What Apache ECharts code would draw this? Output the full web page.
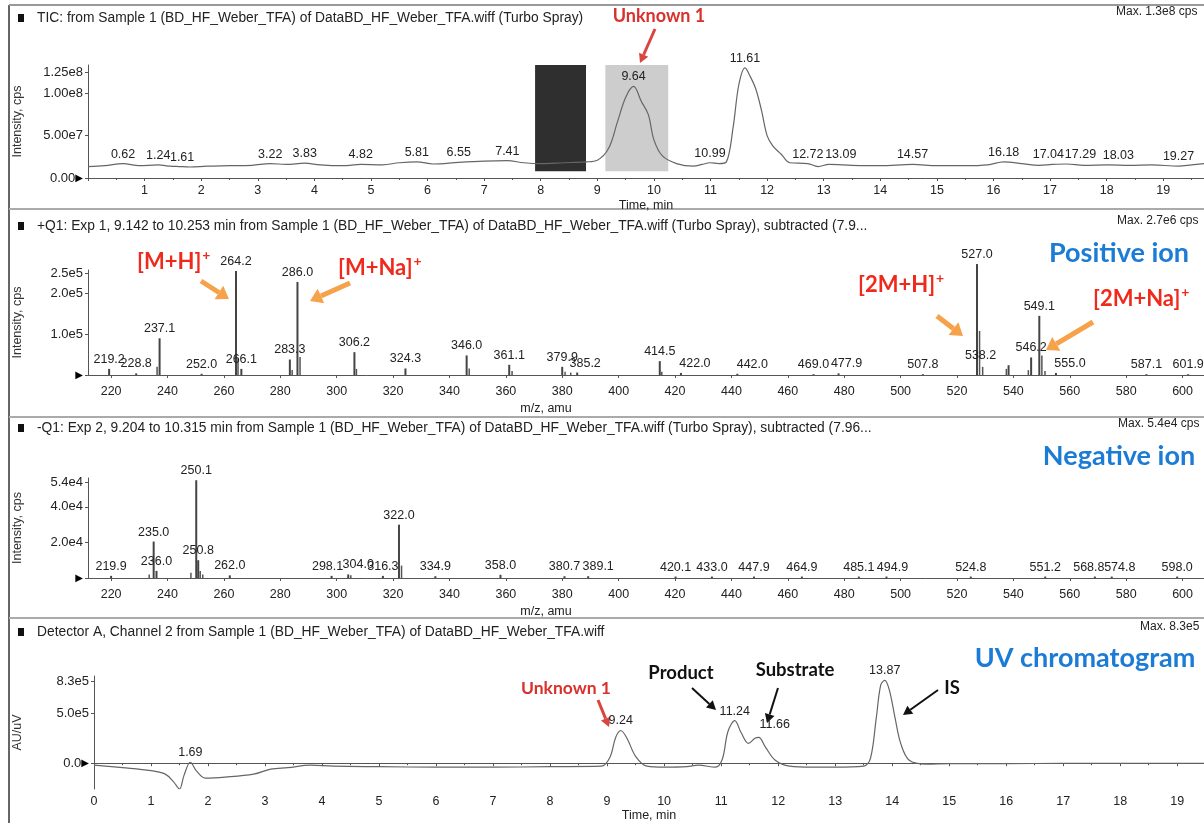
<!DOCTYPE html>
<html>
<head>
<meta charset="utf-8">
<title>LC-MS / UV</title>
<script src="https://cdn.jsdelivr.net/npm/echarts@6/dist/echarts.min.js"></script>
<style>
  html, body { margin: 0; padding: 0; background: #fff; }
  #chart { width: 1204px; height: 823px; }
</style>
</head>
<body>
<div id="chart"></div>
<script>
// ---- TIC chromatogram (time in min, intensity in cps) ----
const ticTime = [0.0, 0.3, 0.62, 0.9, 1.24, 1.45, 1.61, 1.8, 2.1, 2.5, 2.9, 3.22, 3.5, 3.83, 4.1, 4.5, 4.82, 5.2, 5.5, 5.81, 6.1, 6.55, 7.0, 7.41, 7.7, 8.0, 8.4, 8.8, 9.0, 9.2, 9.35, 9.5, 9.64, 9.78, 9.9, 10.0, 10.15, 10.4, 10.7, 10.85, 10.99, 11.15, 11.28, 11.4, 11.5, 11.61, 11.7, 11.8, 11.9, 12.0, 12.1, 12.25, 12.4, 12.72, 12.9, 13.09, 13.5, 14.0, 14.57, 15.0, 15.5, 15.9, 16.18, 16.5, 16.8, 17.04, 17.29, 17.6, 18.03, 18.4, 18.8, 19.27, 19.5, 19.72];
const ticIntensity = [1.35e7, 1.45e7, 1.7e7, 1.45e7, 1.55e7, 1.4e7, 1.35e7, 1.3e7, 1.4e7, 1.45e7, 1.5e7, 1.7e7, 1.6e7, 1.75e7, 1.55e7, 1.45e7, 1.6e7, 1.55e7, 1.8e7, 1.9e7, 1.65e7, 1.85e7, 2.0e7, 2.05e7, 1.8e7, 1.7e7, 1.8e7, 1.9e7, 2.1e7, 3.5e7, 6.5e7, 9.5e7, 1.08e8, 9.0e7, 7.5e7, 4.5e7, 2.6e7, 1.7e7, 1.4e7, 1.6e7, 1.8e7, 1.7e7, 1.9e7, 6.0e7, 1.1e8, 1.3e8, 1.2e8, 1.05e8, 8.0e7, 5.0e7, 3.8e7, 2.8e7, 1.8e7, 1.7e7, 1.35e7, 1.6e7, 1.5e7, 1.45e7, 1.6e7, 1.45e7, 1.45e7, 1.55e7, 1.9e7, 1.7e7, 1.5e7, 1.6e7, 1.65e7, 1.5e7, 1.55e7, 1.5e7, 1.55e7, 1.4e7, 1.55e7, 1.7e7];
const ticPeakLabels = [0.62, 1.24, 1.61, 3.22, 3.83, 4.82, 5.81, 6.55, 7.41, 9.64, 10.99, 11.61, 12.72, 13.09, 14.57, 16.18, 17.04, 17.29, 18.03, 19.27];
const ticYTicks = [0, 5e7, 1e8, 1.25e8];
const subtractRange = [7.9, 8.8];
const exp1Range = [9.142, 10.253];

// ---- +Q1 spectrum (m/z, cps) ----
const posMz = [219.2, 228.8, 237.1, 252.0, 264.2, 266.1, 283.3, 286.0, 306.2, 324.3, 346.0, 361.1, 379.9, 385.2, 414.5, 422.0, 442.0, 469.0, 477.9, 507.8, 527.0, 538.2, 546.2, 549.1, 555.0, 587.1, 601.9];
const posInt = [1.5e4, 4e3, 9e4, 3e3, 2.55e5, 1.5e4, 3.8e4, 2.28e5, 5.6e4, 1.6e4, 4.8e4, 2.5e4, 2e4, 6e3, 3.4e4, 5e3, 3e3, 2e3, 4e3, 2e3, 2.72e5, 2.4e4, 4.3e4, 1.45e5, 5e3, 2e3, 2e3];
const posMinorMz = [236.3, 265.0, 284.2, 287.0, 307.0, 347.0, 362.2, 381.0, 383.0, 415.3, 528.0, 529.1, 537.5, 545.3, 550.1, 551.2];
const posMinorInt = [2e4, 4e4, 1.2e4, 4.4e4, 1.5e4, 1.6e4, 1e4, 8e3, 6e3, 8e3, 1.08e5, 2e4, 1.5e4, 1.2e4, 4.8e4, 1e4];
const posYTicks = [0, 1e5, 2e5, 2.5e5];

// ---- -Q1 spectrum (m/z, cps) ----
const negMz = [219.9, 235.0, 236.0, 250.1, 250.8, 262.0, 298.1, 304.0, 316.3, 322.0, 334.9, 358.0, 380.7, 389.1, 420.1, 433.0, 447.9, 464.9, 485.1, 494.9, 524.8, 551.2, 568.8, 574.8, 598.0];
const negInt = [1.2e3, 2.05e4, 4e3, 5.5e4, 1.0e4, 1.5e3, 1.2e3, 2e3, 1.2e3, 3.0e4, 1e3, 1.8e3, 1e3, 1e3, 8e2, 8e2, 8e2, 8e2, 8e2, 8e2, 8e2, 8e2, 8e2, 8e2, 8e2];
const negMinorMz = [233.5, 248.3, 251.6, 252.5, 305.0, 323.0];
const negMinorInt = [2e3, 3e3, 4e3, 2e3, 1.5e3, 7e3];
const negYTicks = [0, 2e4, 4e4, 5.4e4];

const mzTicks = [220, 240, 260, 280, 300, 320, 340, 360, 380, 400, 420, 440, 460, 480, 500, 520, 540, 560, 580, 600];

// ---- UV chromatogram (time in min, AU/uV) ----
const uvTime = [0.0, 0.5, 1.0, 1.25, 1.4, 1.5, 1.58, 1.69, 1.8, 1.95, 2.3, 2.8, 3.1, 3.4, 3.8, 4.2, 5.0, 6.0, 7.0, 8.0, 8.9, 9.05, 9.15, 9.24, 9.35, 9.5, 9.7, 10.0, 10.4, 10.6, 10.9, 11.02, 11.12, 11.24, 11.35, 11.48, 11.6, 11.66, 11.78, 11.95, 12.2, 12.6, 13.0, 13.5, 13.62, 13.72, 13.8, 13.87, 13.95, 14.05, 14.15, 14.3, 14.6, 15.0, 16.0, 17.0, 18.0, 19.0, 19.47];
const uvSignal = [-0.2e5, -0.45e5, -0.75e5, -1.1e5, -1.9e5, -2.6e5, -1.2e5, 0.1e5, -0.8e5, -1.5e5, -1.4e5, -1.1e5, -0.6e5, -0.45e5, -0.2e5, -0.3e5, -0.35e5, -0.4e5, -0.4e5, -0.35e5, -0.3e5, 0.6e5, 2.6e5, 3.3e5, 2.5e5, 0.7e5, -0.3e5, -0.4e5, -0.35e5, -0.2e5, -0.4e5, 0.4e5, 3.2e5, 4.3e5, 3.1e5, 2.0e5, 2.55e5, 2.6e5, 1.6e5, 0.3e5, -0.3e5, -0.4e5, -0.4e5, -0.3e5, 0.5e5, 4.5e5, 7.9e5, 8.35e5, 7.4e5, 4.6e5, 2.0e5, 0.3e5, -0.1e5, -0.05e5, -0.05e5, 0.0, 0.0, 0.0, 0.0];
const uvPeakLabels = [1.69, 9.24, 11.24, 11.66, 13.87];
const uvYTicks = [0, 5e5, 8.3e5];

const FONT = "'Liberation Sans', Arial, sans-serif";
const BOLD = "Lato, 'Open Sans', sans-serif";
const INK = '#222';
const AXIS = '#555';

// label nudges (px) where the printed labels were pushed aside to avoid overlap
const ticLabelNudge = { 1.61: [3, 0], 13.09: [12, 0], 17.04: [-4, 0], 17.29: [14, 0], 18.03: [10, 0] };
const uvLabelNudge = { 11.66: [16, -3] };
const posLabelNudge = { 385.2: [8, 0], 422.0: [14, 0], 442.0: [15, 0], 477.9: [8, 0], 538.2: [-28, 0], 555.0: [14, 0] };
const negLabelNudge = { 298.1: [-4, 0], 304.0: [10, 0], 389.1: [10, 0], 494.9: [6, 0], 568.8: [-6, 0], 574.8: [8, 0] };

function curveData(xs, ys, labelled, nudge) {
    return xs.map(function (x, i) {
        return { value: [x, ys[i]], label: { show: labelled.indexOf(x) >= 0, offset: nudge[x] || [0, 0] } };
    });
}
function stickData(xs, ys, nudge) {
    return xs.map(function (x, i) {
        return nudge ? { value: [x, ys[i]], label: { offset: nudge[x] || [0, 0] } } : [x, ys[i]];
    });
}
function sci(v, digits) {
    return v.toExponential(digits).replace('+', '');
}

// little helper for annotation arrows
function arrow(x1, y1, x2, y2, color, w, hl, hw) {
    const a = Math.atan2(y2 - y1, x2 - x1);
    const bx = x2 - hl * Math.cos(a), by = y2 - hl * Math.sin(a);
    const nx = -Math.sin(a), ny = Math.cos(a);
    return [
        { type: 'line', shape: { x1: x1, y1: y1, x2: bx, y2: by }, style: { stroke: color, lineWidth: w } },
        { type: 'polygon', shape: { points: [[x2, y2], [bx + nx * hw, by + ny * hw], [bx - nx * hw, by - ny * hw]] }, style: { fill: color } }
    ];
}
function txt(x, y, s, font, color, align) {
    return { type: 'text', x: x, y: y, style: { text: s, font: font, fill: color, align: align || 'left', verticalAlign: 'middle' } };
}
function richTxt(x, y, s, color) {
    return {
        type: 'text', x: x, y: y,
        style: {
            text: s, fill: color, verticalAlign: 'middle', align: 'left',
            font: 'bold 22px ' + BOLD,
            rich: { s: { fontSize: 14, fontWeight: 'bold', fontFamily: BOLD, fill: color, padding: [0, 0, 14, 1] } }
        }
    };
}

const xCommon = {
    axisLine: { lineStyle: { color: AXIS } },
    axisTick: { length: 3, lineStyle: { color: AXIS } },
    axisLabel: { color: INK, fontSize: 12.5, fontFamily: FONT, margin: 6 },
    splitLine: { show: false },
    nameTextStyle: { color: INK, fontSize: 12.5, fontFamily: FONT }
};
function yAxis(idx, min, max, ticks, fmt, name, gap) {
    return {
        type: 'value', gridIndex: idx, min: min, max: max, name: name,
        nameLocation: 'middle', nameGap: gap,
        nameTextStyle: { color: '#333', fontSize: 12.5, fontFamily: FONT },
        axisLine: { show: true, lineStyle: { color: AXIS } },
        axisTick: { show: true, length: 3, customValues: ticks, lineStyle: { color: AXIS } },
        axisLabel: {
            customValues: ticks, formatter: fmt, color: INK, fontSize: 13, fontFamily: FONT, margin: 5,
            rich: { a: { fontSize: 10, color: '#000', fontFamily: 'DejaVu Sans' } }
        },
        splitLine: { show: false }
    };
}
function mzAxis(idx) {
    return Object.assign({}, xCommon, {
        type: 'value', gridIndex: idx, min: 211.8, max: 607.6,
        name: 'm/z, amu', nameLocation: 'middle', nameGap: 27,
        nameTextStyle: Object.assign({}, xCommon.nameTextStyle, { padding: [0, 200, 0, 0] }),
        axisTick: Object.assign({}, xCommon.axisTick, { customValues: mzTicks }),
        axisLabel: Object.assign({}, xCommon.axisLabel, { customValues: mzTicks, margin: 10 })
    });
}

const labelStyle = { color: INK, fontSize: 12.5, fontFamily: FONT, distance: 3 };

const graphics = [
    // page frame and separators of the scanned print-out
    { type: 'line', shape: { x1: 9, y1: 5, x2: 9, y2: 823 }, style: { stroke: '#666', lineWidth: 2 } },
    { type: 'line', shape: { x1: 9, y1: 5, x2: 1204, y2: 5 }, style: { stroke: '#999', lineWidth: 2 } },
    { type: 'line', shape: { x1: 9, y1: 209, x2: 1204, y2: 209 }, style: { stroke: '#aaa', lineWidth: 2 } },
    { type: 'line', shape: { x1: 9, y1: 417, x2: 1204, y2: 417 }, style: { stroke: '#aaa', lineWidth: 2 } },
    { type: 'line', shape: { x1: 9, y1: 618, x2: 1204, y2: 618 }, style: { stroke: '#aaa', lineWidth: 2 } },
    // panel headers
    { type: 'rect', shape: { x: 18, y: 14, width: 6, height: 8 }, style: { fill: '#111' } },
    { type: 'rect', shape: { x: 18, y: 222, width: 6, height: 8 }, style: { fill: '#111' } },
    { type: 'rect', shape: { x: 18, y: 424, width: 6, height: 8 }, style: { fill: '#111' } },
    { type: 'rect', shape: { x: 18, y: 628, width: 6, height: 8 }, style: { fill: '#111' } },
    txt(37, 18, 'TIC: from Sample 1 (BD_HF_Weber_TFA) of DataBD_HF_Weber_TFA.wiff (Turbo Spray)', '13.8px ' + FONT, INK),
    txt(37, 226, '+Q1: Exp 1, 9.142 to 10.253 min from Sample 1 (BD_HF_Weber_TFA) of DataBD_HF_Weber_TFA.wiff (Turbo Spray), subtracted (7.9...', '13.8px ' + FONT, INK),
    txt(37, 428, '-Q1: Exp 2, 9.204 to 10.315 min from Sample 1 (BD_HF_Weber_TFA) of DataBD_HF_Weber_TFA.wiff (Turbo Spray), subtracted (7.96...', '13.8px ' + FONT, INK),
    txt(37, 632, 'Detector A, Channel 2 from Sample 1 (BD_HF_Weber_TFA) of DataBD_HF_Weber_TFA.wiff', '13.8px ' + FONT, INK),
    txt(1116, 12, 'Max. 1.3e8 cps', '12px ' + FONT, INK),
    txt(1117, 221, 'Max. 2.7e6 cps', '12px ' + FONT, INK),
    txt(1118, 424, 'Max. 5.4e4 cps', '12px ' + FONT, INK),
    txt(1140, 627, 'Max. 8.3e5', '12px ' + FONT, INK),
    // blue panel captions
    txt(1119, 253, 'Positive ion', 'bold 27px ' + BOLD, '#1c7cd5', 'center'),
    txt(1119, 456, 'Negative ion', 'bold 27px ' + BOLD, '#1c7cd5', 'center'),
    txt(1085, 658, 'UV chromatogram', 'bold 27px ' + BOLD, '#1c7cd5', 'center'),
    // TIC annotation
    txt(659, 16, 'Unknown 1', 'bold 18px ' + BOLD, '#d9312b', 'center')
].concat(
    arrow(655, 29, 640, 63, '#d9453f', 3, 9, 5),
    [
        richTxt(137, 262, '[M+H]{s|+}', '#ef2a1c'),
        richTxt(338, 268, '[M+Na]{s|+}', '#ef2a1c'),
        richTxt(858, 285, '[2M+H]{s|+}', '#ef2a1c'),
        richTxt(1093, 299, '[2M+Na]{s|+}', '#ef2a1c')
    ],
    arrow(201, 281, 229, 299, '#f5a24b', 5, 12, 8),
    arrow(350, 283, 310, 301, '#f5a24b', 5, 12, 8),
    arrow(937, 316, 963, 336, '#f5a24b', 5, 12, 8),
    arrow(1093, 322, 1046, 350, '#f5a24b', 5, 12, 8),
    [
        txt(566, 688, 'Unknown 1', 'bold 17.5px ' + BOLD, '#d9312b', 'center'),
        txt(681, 673, 'Product', 'bold 18.5px ' + BOLD, '#111', 'center'),
        txt(795, 670, 'Substrate', 'bold 18.5px ' + BOLD, '#111', 'center'),
        txt(952, 688, 'IS', 'bold 18.5px ' + BOLD, '#111', 'center')
    ],
    arrow(598, 700, 609, 727, '#d9453f', 3, 9, 5),
    arrow(692, 688, 716, 710, '#111', 2, 9, 5),
    arrow(778, 688, 767, 723, '#111', 2, 9, 5),
    arrow(938, 690, 903, 715, '#111', 2, 9, 5)
);

const option = {
    backgroundColor: '#fff',
    animation: false,
    textStyle: { fontFamily: FONT },
    grid: [
        { left: 88, right: 0, top: 65, height: 113 },
        { left: 88, right: 0, top: 270, height: 105 },
        { left: 88, right: 0, top: 478, height: 100 },
        { left: 94, right: 0, top: 676, height: 117 }
    ],
    xAxis: [
        Object.assign({}, xCommon, {
            type: 'value', gridIndex: 0, min: 0, max: 19.72, interval: 1,
            name: 'Time, min', nameLocation: 'middle', nameGap: 21,
            minorTick: { show: true, splitNumber: 2, length: 2, lineStyle: { color: AXIS } },
            axisLabel: Object.assign({}, xCommon.axisLabel, { showMaxLabel: false, formatter: function (v) { return v === 0 ? '' : v; } })
        }),
        mzAxis(1),
        mzAxis(2),
        Object.assign({}, xCommon, {
            type: 'value', gridIndex: 3, min: 0, max: 19.47, interval: 1,
            name: 'Time, min', nameLocation: 'middle', nameGap: 20,
            minorTick: { show: true, splitNumber: 2, length: 2, lineStyle: { color: AXIS } },
            axisLabel: Object.assign({}, xCommon.axisLabel, { showMaxLabel: false })
        })
    ],
    yAxis: [
        yAxis(0, 0, 1.333e8, ticYTicks, function (v) { return v === 0 ? '0.00{a|▶}' : sci(v, 2); }, 'Intensity, cps', 64),
        yAxis(1, 0, 2.574e5, posYTicks, function (v) { return v === 0 ? '{a|▶}' : sci(v, 1); }, 'Intensity, cps', 64),
        yAxis(2, 0, 5.625e4, negYTicks, function (v) { return v === 0 ? '{a|▶}' : sci(v, 1); }, 'Intensity, cps', 64),
        yAxis(3, -2.6e5, 8.8e5, uvYTicks, function (v) { return v === 0 ? '0.0{a|▶}' : sci(v, 1); }, 'AU/uV', 70)
    ],
    graphic: graphics,
    series: [
        {
            type: 'line', xAxisIndex: 0, yAxisIndex: 0, smooth: 0.35,
            symbol: 'circle', symbolSize: 0, showSymbol: true, showAllSymbol: true,
            lineStyle: { color: '#666', width: 1.2 }, itemStyle: { color: '#666' },
            label: Object.assign({ position: 'top', formatter: function (p) { return p.value[0].toFixed(2); } }, labelStyle),
            data: curveData(ticTime, ticIntensity, ticPeakLabels, ticLabelNudge),
            markArea: {
                silent: true,
                data: [
                    [{ xAxis: subtractRange[0], yAxis: 8e6, itemStyle: { color: '#2f2f2f' } }, { xAxis: subtractRange[1], yAxis: 1.333e8 }],
                    [{ xAxis: exp1Range[0], yAxis: 8e6, itemStyle: { color: '#cdcdcd' } }, { xAxis: exp1Range[1], yAxis: 1.333e8 }]
                ]
            },
            z: 3
        },
        {
            type: 'bar', xAxisIndex: 1, yAxisIndex: 1, barWidth: 2, clip: false,
            itemStyle: { color: '#444' },
            label: Object.assign({ show: true, position: 'top', formatter: function (p) { return p.value[0].toFixed(1); } }, labelStyle),
            data: stickData(posMz, posInt, posLabelNudge)
        },
        {
            type: 'bar', xAxisIndex: 1, yAxisIndex: 1, barWidth: 1.5, barGap: '-100%', clip: false,
            itemStyle: { color: '#555' },
            data: stickData(posMinorMz, posMinorInt)
        },
        {
            type: 'bar', xAxisIndex: 2, yAxisIndex: 2, barWidth: 2, clip: false,
            itemStyle: { color: '#444' },
            label: Object.assign({ show: true, position: 'top', formatter: function (p) { return p.value[0].toFixed(1); } }, labelStyle),
            data: stickData(negMz, negInt, negLabelNudge)
        },
        {
            type: 'bar', xAxisIndex: 2, yAxisIndex: 2, barWidth: 1.5, barGap: '-100%', clip: false,
            itemStyle: { color: '#555' },
            data: stickData(negMinorMz, negMinorInt)
        },
        {
            type: 'line', xAxisIndex: 3, yAxisIndex: 3, smooth: 0.35,
            symbol: 'circle', symbolSize: 0, showSymbol: true, showAllSymbol: true,
            lineStyle: { color: '#666', width: 1.2 }, itemStyle: { color: '#666' },
            label: Object.assign({ position: 'top', formatter: function (p) { return p.value[0].toFixed(2); } }, labelStyle),
            data: curveData(uvTime, uvSignal, uvPeakLabels, uvLabelNudge)
        }
    ]
};

const myChart = echarts.init(document.getElementById('chart'));
myChart.setOption(option);
</script>
</body>
</html>
